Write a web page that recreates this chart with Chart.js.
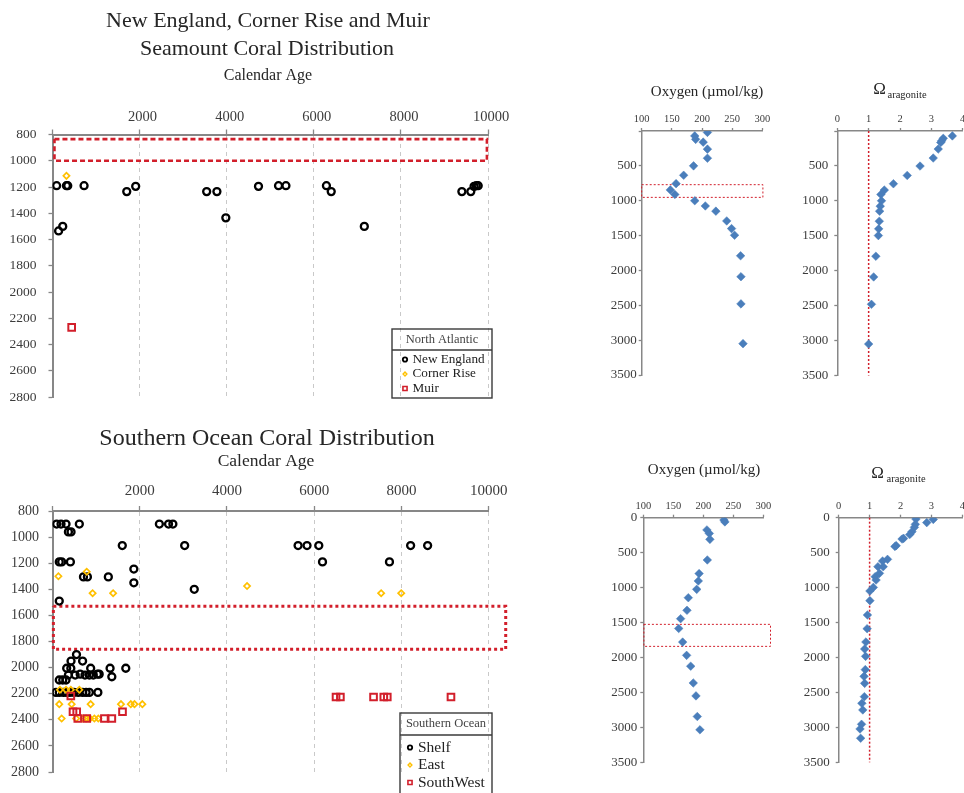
<!DOCTYPE html>
<html>
<head>
<meta charset="utf-8">
<script src="https://cdn.jsdelivr.net/npm/chart.js@4.4.1/dist/chart.umd.min.js"></script>
<style>
  html, body { margin: 0; padding: 0; background: #fff; width: 964px; height: 793px; overflow: hidden; position: relative; }
  canvas { position: absolute; }
</style>
</head>
<body>
<canvas id="na" width="530" height="420" style="left:0;top:0"></canvas>
<canvas id="so" width="540" height="388" style="left:0;top:405px"></canvas>
<canvas id="naO2" width="175" height="340" style="left:600px;top:60px"></canvas>
<canvas id="naOm" width="184" height="340" style="left:790px;top:60px"></canvas>
<canvas id="soO2" width="175" height="353" style="left:600px;top:440px"></canvas>
<canvas id="soOm" width="184" height="353" style="left:790px;top:440px"></canvas>
<script>
// ---------- North Atlantic corals: calendar age (yr) and depth (m) ----------
const neAge   = [95, 320, 350, 725, 1705, 1910, 3540, 3775, 3980, 4730, 5190, 5360, 6290, 6400, 7160, 9400, 9605, 9680, 9730, 9775, 140, 235];
const neDepth = [1190, 1190, 1190, 1190, 1235, 1195, 1235, 1235, 1435, 1195, 1190, 1190, 1190, 1235, 1500, 1235, 1235, 1195, 1190, 1190, 1535, 1500];
const crAge   = [320];
const crDepth = [1115];
const muAge   = [440];
const muDepth = [2270];
// depth band with no corals
const naGapAge   = [45, 9975];
const naGapDepth = [835, 1000];

// ---------- Southern Ocean corals ----------
const shelfAge = [95, 195, 310, 615, 2450, 2660, 2760,
  365, 425,
  1600, 3030, 5630, 5835, 6105, 8210, 8600,
  155, 210, 410, 6190, 7725,
  1865,
  710, 800, 1280,
  1865, 3250, 155,
  550, 425, 690,
  325, 420, 875, 1320, 1680,
  365, 520, 635, 745, 845, 935, 1030, 1070, 1360,
  155, 235, 310,
  80, 155, 250, 325, 400, 490, 590, 690, 770, 845, 1040];
const shelfDepth = [900, 900, 900, 900, 900, 900, 900,
  960, 960,
  1065, 1065, 1065, 1065, 1065, 1065, 1065,
  1190, 1190, 1190, 1190, 1190,
  1245,
  1305, 1305, 1305,
  1350, 1400, 1490,
  1900, 1950, 1950,
  2005, 2005, 2005, 2005, 2005,
  2057, 2057, 2050, 2057, 2057, 2057, 2050, 2050, 2070,
  2095, 2095, 2095,
  2190, 2190, 2190, 2190, 2190, 2190, 2190, 2190, 2190, 2190, 2190];
const eastAge = [135, 785, 920, 1390, 4460, 7535, 7995,
  170, 310, 420, 615,
  155, 440, 875, 1570, 1795, 1880, 2060,
  210, 540, 700, 770, 860, 960, 1050];
const eastDepth = [1300, 1265, 1430, 1430, 1375, 1430, 1430,
  2170, 2170, 2170, 2170,
  2280, 2280, 2280, 2280, 2280, 2280, 2280,
  2390, 2390, 2390, 2390, 2390, 2390, 2390];
const swAge   = [420, 6500, 6600, 7360, 7595, 7675, 9135, 470, 555, 1605, 580, 785, 1190, 1360];
const swDepth = [2218, 2225, 2225, 2225, 2225, 2225, 2225, 2338, 2338, 2338, 2390, 2390, 2390, 2390];
const soGapAge   = [20, 10390];
const soGapDepth = [1530, 1860];

// ---------- North Atlantic water-column profile ----------
const naO2Depth = [20, 70, 120, 160, 260, 390, 500, 635, 755, 845, 910, 1000, 1075, 1150, 1290, 1400, 1495, 1790, 2090, 2480, 3050];
const naO2      = [209, 188, 189.5, 202, 209, 209, 186, 169.6, 157, 147.5, 155, 188, 205.5, 223, 241, 249, 254, 264, 264.6, 264.6, 268];
const naOmDepth = [70, 105, 140, 165, 258, 387, 502, 636, 755, 846, 908, 999, 1076, 1148, 1291, 1401, 1497, 1793, 2089, 2481, 3050];
const naOm      = [3.67, 3.38, 3.33, 3.3, 3.22, 3.06, 2.64, 2.23, 1.79, 1.5, 1.39, 1.41, 1.37, 1.35, 1.34, 1.32, 1.31, 1.23, 1.16, 1.09, 1.0];
const naO2BandO2    = [100, 301];
const naO2BandDepth = [770, 952];

// ---------- Southern Ocean water-column profile ----------
const soO2Depth = [33, 60, 175, 225, 310, 605, 800, 905, 1025, 1145, 1325, 1445, 1585, 1780, 1970, 2125, 2365, 2550, 2845, 3035];
const soO2      = [234.4, 236, 206, 210, 211, 206.7, 193, 191.7, 189, 175, 172.8, 162.2, 159, 165.6, 172.2, 179, 183.3, 187.8, 190, 194.4];
const soOmDepth = [20, 25, 70, 95, 138, 200, 240, 296, 305, 400, 412, 596, 620, 701, 701, 796, 844, 892, 997, 1049, 1187, 1392, 1588, 1779, 1879, 1984, 2174, 2270, 2370, 2561, 2656, 2751, 2956, 3023, 3156];
const soOm      = [2.5, 3.06, 2.85, 2.48, 2.45, 2.37, 2.3, 2.1, 2.05, 1.86, 1.82, 1.58, 1.42, 1.27, 1.44, 1.32, 1.18, 1.21, 1.12, 1.01, 1.01, 0.93, 0.92, 0.88, 0.84, 0.87, 0.86, 0.82, 0.84, 0.83, 0.75, 0.78, 0.74, 0.69, 0.71];
const soO2BandO2    = [101, 312];
const soO2BandDepth = [1526, 1841];

// saturation horizon reference (Omega = 1)
const omRefValue = 1;
const omRefDepth = [0, 3500];

// ---------- tick ranges ----------
const ageTicks   = [0, 10000, 2000];
const depthTicks = [800, 2800, 200];
const profDepthTicks = [0, 3500, 500];
const o2Ticks    = [100, 300, 50];
const omTicks    = [0, 4, 1];

// ---------- styling ----------
const SERIF = "'Liberation Serif', 'DejaVu Serif', serif";
const AXIS = '#878787';
const TXT = '#3c3c3c';
const RED = '#d21f2b';
const BLUE = '#4a7ebb';
const GOLD = '#ffc000';

const pts = (xs, ys) => xs.map((x, i) => ({ x, y: ys[i] }));
const box = (xr, yr) => [
  { x: xr[0], y: yr[0] }, { x: xr[1], y: yr[0] }, { x: xr[1], y: yr[1] },
  { x: xr[0], y: yr[1] }, { x: xr[0], y: yr[0] }
];

// free-standing headings (titles, axis captions)
const headings = {
  id: 'headings',
  afterDraw(chart, args, opts) {
    const ctx = chart.ctx;
    ctx.save();
    for (const h of (opts.items || [])) {
      ctx.font = h.size + 'px ' + SERIF;
      ctx.fillStyle = h.color || '#262626';
      ctx.textAlign = h.align || 'center';
      ctx.textBaseline = 'alphabetic';
      ctx.fillText(h.text, h.x, h.y);
    }
    ctx.restore();
  }
};

function marker(ctx, style, r, x, y) {
  if (Chart.helpers && Chart.helpers.drawPoint) {
    Chart.helpers.drawPoint(ctx, { pointStyle: style, radius: r, rotation: 0, borderWidth: ctx.lineWidth }, x, y);
    return;
  }
  ctx.beginPath();
  if (style === 'circle') ctx.arc(x, y, r, 0, Math.PI * 2);
  else if (style === 'rectRot') { ctx.moveTo(x - r, y); ctx.lineTo(x, y - r); ctx.lineTo(x + r, y); ctx.lineTo(x, y + r); ctx.closePath(); }
  else { const s = r * Math.SQRT1_2; ctx.rect(x - s, y - s, 2 * s, 2 * s); }
  ctx.fill(); ctx.stroke();
}

// boxed legend with a heading row
const boxLegend = {
  id: 'boxLegend',
  afterDraw(chart, args, o) {
    if (!o || !o.title) return;
    const ctx = chart.ctx;
    ctx.save();
    ctx.strokeStyle = '#3a3a3a';
    ctx.lineWidth = 1.4;
    ctx.strokeRect(o.x, o.y, o.w, o.h);
    ctx.beginPath();
    ctx.moveTo(o.x, o.divY);
    ctx.lineTo(o.x + o.w, o.divY);
    ctx.stroke();
    ctx.font = o.titleSize + 'px ' + SERIF;
    ctx.fillStyle = '#444';
    ctx.textAlign = 'center';
    ctx.textBaseline = 'middle';
    ctx.fillText(o.title, o.x + o.w / 2, o.titleY);
    const sets = chart.data.datasets.filter(d => !d.showLine);
    sets.forEach((d, i) => {
      const y = o.rowY0 + i * o.rowH;
      ctx.save();
      ctx.fillStyle = d.pointBackgroundColor;
      ctx.strokeStyle = d.pointBorderColor;
      ctx.lineWidth = Math.max(1.2, d.pointBorderWidth * 0.8);
      marker(ctx, d.pointStyle, d.pointRadius * o.markScale, o.markX, y);
      ctx.restore();
      ctx.font = o.itemSize + 'px ' + SERIF;
      ctx.fillStyle = '#222';
      ctx.textAlign = 'left';
      ctx.textBaseline = 'middle';
      ctx.fillText(d.label, o.textX, y);
    });
    ctx.restore();
  }
};

function xAxis(range, o) {
  return {
    type: 'linear', position: 'top',
    min: range[0], max: range[1],
    afterFit: s => { s.height = o.h; },
    ticks: {
      stepSize: range[2], autoSkip: false, maxRotation: 0, padding: o.pad,
      labelOffset: o.off || 0,
      font: { family: SERIF, size: o.size }, color: TXT,
      callback: v => (o.hideFirst && v === range[0]) ? '' : String(v)
    },
    grid: {
      drawOnChartArea: !!o.gridLines, drawTicks: true, tickLength: o.tl,
      lineWidth: 1,
      color: c => (c.tick && c.tick.value === range[0]) ? 'rgba(0,0,0,0)' : '#c9c9c9',
      tickColor: AXIS, tickWidth: 1.3
    },
    border: { display: true, color: AXIS, width: o.bw, dash: [4, 4] }
  };
}

function yAxis(range, o) {
  return {
    type: 'linear', position: 'left', reverse: true,
    min: range[0], max: range[1],
    afterFit: s => { s.width = o.w; },
    ticks: {
      stepSize: range[2], autoSkip: false, padding: o.pad,
      font: { family: SERIF, size: o.size }, color: TXT,
      callback: v => (o.hideFirst && v === range[0]) ? '' : String(v)
    },
    grid: { drawOnChartArea: false, drawTicks: true, tickLength: o.tl, tickColor: AXIS, tickWidth: 1.3 },
    border: { display: true, color: AXIS, width: o.bw }
  };
}

function makeChart(id, datasets, cfg) {
  return new Chart(document.getElementById(id), {
    type: 'scatter',
    data: { datasets },
    options: {
      responsive: false, animation: false, devicePixelRatio: 1, events: [],
      layout: { autoPadding: false, padding: cfg.padding },
      plugins: {
        legend: { display: false }, tooltip: { enabled: false },
        headings: { items: cfg.headings },
        boxLegend: cfg.legend || {}
      },
      scales: { x: cfg.x, y: cfg.y }
    },
    plugins: [headings, boxLegend]
  });
}

const circleSet = (label, data, order) => ({
  label, data, order, pointStyle: 'circle', pointRadius: 3.5, pointBorderWidth: 2.3,
  pointBorderColor: '#000', pointBackgroundColor: 'rgba(0,0,0,0)', borderColor: '#000', backgroundColor: 'rgba(0,0,0,0)'
});
const diamondSet = (label, data, order) => ({
  label, data, order, pointStyle: 'rectRot', pointRadius: 3.1, pointBorderWidth: 1.7,
  pointBorderColor: GOLD, pointBackgroundColor: 'rgba(0,0,0,0)', borderColor: GOLD, backgroundColor: 'rgba(0,0,0,0)'
});
const squareSet = (label, data, order) => ({
  label, data, order, pointStyle: 'rect', pointRadius: 4.7, pointBorderWidth: 2,
  pointBorderColor: RED, pointBackgroundColor: 'rgba(0,0,0,0)', borderColor: RED, backgroundColor: 'rgba(0,0,0,0)'
});
const outline = (data, width, dash) => ({
  label: '', data, showLine: true, order: 9, pointRadius: 0, borderColor: RED, borderWidth: width,
  borderDash: dash, fill: false, clip: false, tension: 0
});
const profileSet = (data) => ({
  label: '', data, order: 1, pointStyle: 'rectRot', pointRadius: 4.3, pointBorderWidth: 0.5,
  pointBorderColor: BLUE, pointBackgroundColor: BLUE, borderColor: BLUE, backgroundColor: BLUE
});

// ---- North Atlantic coral distribution ----
makeChart('na', [
  circleSet('New England', pts(neAge, neDepth), 3),
  diamondSet('Corner Rise', pts(crAge, crDepth), 2),
  squareSet('Muir', pts(muAge, muDepth), 1),
  outline(box(naGapAge, naGapDepth), 2.6, [5, 3])
], {
  padding: { top: 104.5, left: 0, right: 42, bottom: 23 },
  x: xAxis(ageTicks, { h: 30, pad: 4, tl: 5, size: 14.5, off: 3, hideFirst: true, gridLines: true, bw: 2 }),
  y: yAxis(depthTicks, { w: 52.5, pad: 12, tl: 4, size: 13.5, bw: 2 }),
  headings: [
    { text: 'New England, Corner Rise and Muir', x: 268, y: 27, size: 22 },
    { text: 'Seamount Coral Distribution', x: 267, y: 55, size: 22 },
    { text: 'Calendar Age', x: 268, y: 80, size: 16 }
  ],
  legend: { title: 'North Atlantic', x: 392, y: 329, w: 100, h: 69, divY: 350, titleY: 340, titleSize: 12.5,
            rowY0: 359.5, rowH: 14.5, markX: 405, textX: 412.5, itemSize: 13.2, markScale: 0.62 }
});

// ---- Southern Ocean coral distribution ----
makeChart('so', [
  circleSet('Shelf', pts(shelfAge, shelfDepth), 3),
  diamondSet('East', pts(eastAge, eastDepth), 2),
  squareSet('SouthWest', pts(swAge, swDepth), 1),
  outline(box(soGapAge, soGapDepth), 3, [3, 3])
], {
  padding: { top: 76, left: 0, right: 51.3, bottom: 21 },
  x: xAxis(ageTicks, { h: 30, pad: 6, tl: 5, size: 15, off: 0, hideFirst: true, gridLines: true, bw: 2 }),
  y: yAxis(depthTicks, { w: 52.5, pad: 9.5, tl: 4, size: 14, bw: 2 }),
  headings: [
    { text: 'Southern Ocean Coral Distribution', x: 267, y: 40, size: 24 },
    { text: 'Calendar Age', x: 266, y: 61, size: 17.5 }
  ],
  legend: { title: 'Southern Ocean', x: 400, y: 308, w: 92, h: 100, divY: 330, titleY: 319, titleSize: 12.5,
            rowY0: 342.5, rowH: 17.5, markX: 410, textX: 418, itemSize: 15.5, markScale: 0.62 }
});

// ---- North Atlantic oxygen ----
makeChart('naO2', [
  profileSet(pts(naO2, naO2Depth)),
  outline(box(naO2BandO2, naO2BandDepth), 1, [2, 2])
], {
  padding: { top: 51, left: 0, right: 12.7, bottom: 25 },
  x: xAxis(o2Ticks, { h: 20, pad: 2, tl: 3, size: 10.5, bw: 1.5 }),
  y: yAxis(profDepthTicks, { w: 41.7, pad: 2, tl: 3, size: 13, hideFirst: true, bw: 1.5 }),
  headings: [{ text: 'Oxygen (\u00b5mol/kg)', x: 107, y: 36, size: 15 }]
});

// ---- North Atlantic aragonite saturation ----
makeChart('naOm', [
  profileSet(pts(naOm, naOmDepth)),
  outline([{ x: omRefValue, y: omRefDepth[0] }, { x: omRefValue, y: omRefDepth[1] }], 1.5, [2, 2])
], {
  padding: { top: 51, left: 0, right: 11.3, bottom: 24.5 },
  x: xAxis(omTicks, { h: 20, pad: 2, tl: 3, size: 10.5, bw: 1.5 }),
  y: yAxis(profDepthTicks, { w: 47.3, pad: 6, tl: 3, size: 13, hideFirst: true, bw: 1.5 }),
  headings: [
    { text: '\u03a9', x: 89.5, y: 34, size: 17 },
    { text: 'aragonite', x: 97.5, y: 37.5, size: 10.5, align: 'left' }
  ]
});

// ---- Southern Ocean oxygen ----
makeChart('soO2', [
  profileSet(pts(soO2, soO2Depth)),
  outline(box(soO2BandO2, soO2BandDepth), 1, [2, 2])
], {
  padding: { top: 57.7, left: 0, right: 11.7, bottom: 30.7 },
  x: xAxis(o2Ticks, { h: 20, pad: 2, tl: 3, size: 10.5, bw: 1.5 }),
  y: yAxis(profDepthTicks, { w: 43.3, pad: 3, tl: 3, size: 13, bw: 1.5 }),
  headings: [{ text: 'Oxygen (\u00b5mol/kg)', x: 104, y: 33.5, size: 15 }]
});

// ---- Southern Ocean aragonite saturation ----
makeChart('soOm', [
  profileSet(pts(soOm, soOmDepth)),
  outline([{ x: omRefValue, y: omRefDepth[0] }, { x: omRefValue, y: omRefDepth[1] }], 1.5, [2, 2])
], {
  padding: { top: 57.7, left: 0, right: 11.7, bottom: 30.7 },
  x: xAxis(omTicks, { h: 20, pad: 2, tl: 3, size: 10.5, bw: 1.5 }),
  y: yAxis(profDepthTicks, { w: 48.7, pad: 6, tl: 3, size: 13, bw: 1.5 }),
  headings: [
    { text: '\u03a9', x: 87.5, y: 37.5, size: 17 },
    { text: 'aragonite', x: 96.5, y: 42, size: 10.5, align: 'left' }
  ]
});
</script>
</body>
</html>
